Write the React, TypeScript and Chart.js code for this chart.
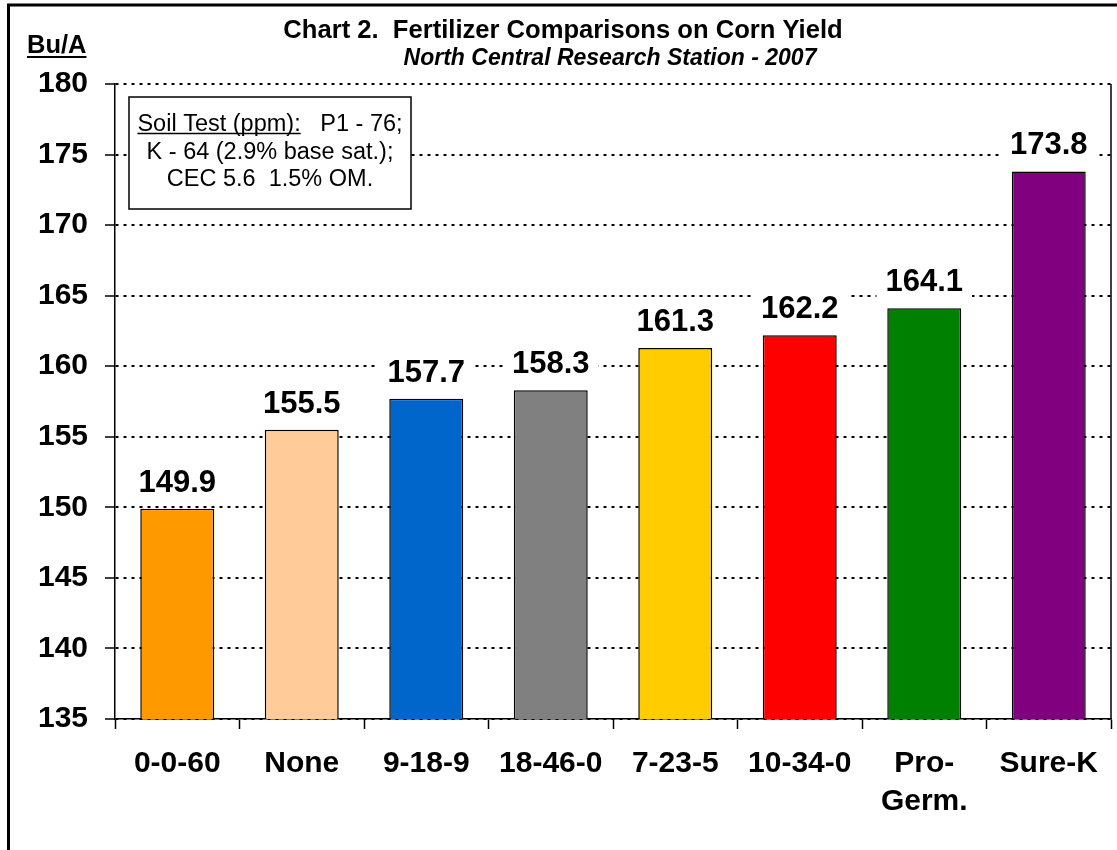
import React, { useEffect, useRef } from "react";
import { Chart, registerables } from "chart.js";

Chart.register(...registerables);

const categories: (string | string[])[] = ["0-0-60", "None", "9-18-9", "18-46-0", "7-23-5", "10-34-0", ["Pro-", "Germ."], "Sure-K"];
const yields: number[] = [149.9, 155.5, 157.7, 158.3, 161.3, 162.2, 164.1, 173.8];
const barColors: string[] = ["#FF9900", "#FFCC99", "#0066CC", "#808080", "#FFCC00", "#FF0000", "#008000", "#800080"];
const yMin = 135;
const yMax = 180;
const yStep = 5;
const titleText = "Chart 2.  Fertilizer Comparisons on Corn Yield";
const subtitleText = "North Central Research Station - 2007";
const yUnitText = "Bu/A";
const noteLines: string[] = ["Soil Test (ppm):   P1 - 76;", "K - 64 (2.9% base sat.);", "CEC 5.6  1.5% OM."];

const FONT = "'Liberation Sans', Arial, Helvetica, sans-serif";

const decorPlugin = {
  id: "decor",
  afterDraw(chart: any) {
    const ctx: CanvasRenderingContext2D = chart.ctx;
    const area = chart.chartArea;
    ctx.save();
    // outer frame
    ctx.strokeStyle = "#000";
    ctx.lineWidth = 3;
    ctx.beginPath();
    ctx.moveTo(8.5, 852);
    ctx.lineTo(8.5, 5);
    ctx.lineTo(1120, 5);
    ctx.stroke();

    // right border of plot
    ctx.lineWidth = 1.5;
    ctx.beginPath();
    ctx.moveTo(area.right, area.top);
    ctx.lineTo(area.right, area.bottom);
    ctx.stroke();

    // title
    ctx.fillStyle = "#000";
    ctx.textAlign = "center";
    ctx.textBaseline = "alphabetic";
    ctx.font = `bold 25.6px ${FONT}`;
    ctx.fillText(titleText, 563, 38);
    ctx.font = `italic bold 23px ${FONT}`;
    ctx.fillText(subtitleText, 610, 65);

    // unit label
    ctx.font = `bold 25.5px ${FONT}`;
    ctx.textAlign = "left";
    ctx.fillText(yUnitText, 27, 53);
    const uw = ctx.measureText(yUnitText).width;
    ctx.lineWidth = 2;
    ctx.beginPath();
    ctx.moveTo(27, 57);
    ctx.lineTo(27 + uw, 57);
    ctx.stroke();

    // note box
    ctx.fillStyle = "#fff";
    ctx.fillRect(129, 97, 282, 112);
    ctx.strokeStyle = "#000";
    ctx.lineWidth = 1.5;
    ctx.strokeRect(129, 97, 282, 112);
    ctx.fillStyle = "#000";
    ctx.font = `23.5px ${FONT}`;
    ctx.textAlign = "center";
    const baselines = [131, 159, 186];
    noteLines.forEach((line, i) => {
      ctx.fillText(line, 270, baselines[i]);
    });
    // underline "Soil Test (ppm):"
    const fullW = ctx.measureText(noteLines[0]).width;
    const partW = ctx.measureText("Soil Test (ppm):").width;
    const startX = 270 - fullW / 2;
    ctx.lineWidth = 1.5;
    ctx.beginPath();
    ctx.moveTo(startX, 133.5);
    ctx.lineTo(startX + partW, 133.5);
    ctx.stroke();

    // data labels with white background
    const meta = chart.getDatasetMeta(0);
    ctx.font = `bold 31px ${FONT}`;
    ctx.textAlign = "center";
    meta.data.forEach((bar: any, i: number) => {
      const txt = yields[i].toFixed(1);
      const w = ctx.measureText(txt).width;
      const by = bar.y - 17;
      ctx.fillStyle = "#fff";
      ctx.fillRect(bar.x - w / 2 - 9, by - 30, w + 18, 38);
      ctx.fillStyle = "#000";
      ctx.fillText(txt, bar.x, by);
    });
    ctx.restore();
  },
};

export default function App() {
  const canvasRef = useRef<HTMLCanvasElement | null>(null);

  useEffect(() => {
    if (!canvasRef.current) return;
    const chart = new Chart(canvasRef.current, {
      type: "bar",
      data: {
        labels: categories as any,
        datasets: [
          {
            data: yields,
            backgroundColor: barColors,
            borderColor: "#000",
            borderWidth: 1.5,
            categoryPercentage: 1,
            barPercentage: 0.594,
          },
        ],
      },
      options: {
        animation: false,
        responsive: false,
        maintainAspectRatio: false,
        layout: { padding: { top: 84, right: 6, left: 0, bottom: 0 } },
        plugins: {
          legend: { display: false },
          tooltip: { enabled: false },
          title: { display: false },
        },
        scales: {
          x: {
            offset: true,
            grid: {
              display: true,
              offset: true,
              drawOnChartArea: false,
              drawTicks: true,
              tickLength: 10,
              tickColor: "#000",
              tickWidth: 1.5,
              color: "#000",
            },
            border: { display: true, color: "#000", width: 1.5 },
            ticks: {
              color: "#000",
              font: { family: FONT, size: 30, weight: "bold", lineHeight: 1.267 },
              padding: 16,
              maxRotation: 0,
              minRotation: 0,
              autoSkip: false,
            },
            afterFit: (scale: any) => {
              scale.height = 131;
            },
          },
          y: {
            min: yMin,
            max: yMax,
            grid: {
              display: true,
              color: "#000",
              lineWidth: 2,
              drawTicks: true,
              tickLength: 10,
              tickColor: "#000",
              tickWidth: 1.5,
              tickBorderDash: [],
            },
            border: { display: true, color: "#000", width: 1.5, dash: [3, 5] },
            ticks: {
              stepSize: yStep,
              color: "#000",
              font: { family: FONT, size: 30, weight: "bold" },
              padding: 17,
            },
            afterFit: (scale: any) => {
              scale.width = 115;
            },
          },
        },
      } as any,
      plugins: [decorPlugin],
    });
    return () => chart.destroy();
  }, []);

  return (
    <div style={{ position: "absolute", left: 0, top: 0, width: 1117, height: 850, background: "#fff" }}>
      <canvas ref={canvasRef} width={1117} height={850} style={{ display: "block" }} />
    </div>
  );
}
